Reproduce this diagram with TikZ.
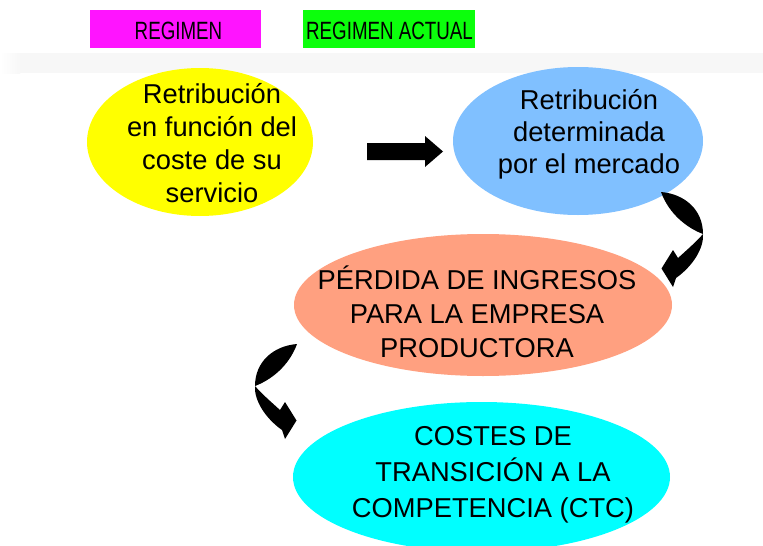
\documentclass[tikz,border=0pt]{standalone}
\usepackage{fontspec}
\setmainfont{Liberation Sans}
\usepackage{graphicx}
\usetikzlibrary{shapes.geometric}
\definecolor{cmag}{RGB}{255,20,255}
\definecolor{cgreen}{RGB}{12,255,12}
\definecolor{cyel}{RGB}{255,255,0}
\definecolor{cblue}{RGB}{128,192,255}
\definecolor{csalmon}{RGB}{255,160,128}
\definecolor{ccyan}{RGB}{0,255,255}
\begin{document}
\begin{tikzpicture}[x=1pt,y=-1pt,
  hdr/.style={rectangle, minimum width=171pt, minimum height=38pt, inner sep=0pt},
  hdrtext/.style={inner sep=0pt, font=\fontsize{25}{30}\selectfont},
  blob/.style={ellipse, inner sep=0pt, draw=none},
  lbl/.style={align=center, inner sep=0pt, font=\fontsize{27.3}{#1}\selectfont},
  curvarrow/.pic={
    \fill[black] (-42,-42) .. controls (-18,-40) and (0,-24) .. (0,0)
         .. controls (-16,-6) and (-34,-20) .. (-42,-42) -- cycle;
    \fill[black] (0,0) .. controls (1,14) and (-10,32) .. (-27,44)
         -- (-30,53) -- (-41.5,34.5) -- (-30,16) -- (-25,24)
         .. controls (-15,15) and (-6,7) .. (0,0) -- cycle;
  }]
\useasboundingbox (0,0) rectangle (763,546);
\fill[white] (0,0) rectangle (763,546);
% faint shadow band
\fill[gray!6] (20,53) rectangle (763,73);
\shade[left color=white, right color=gray!6] (0,53) rectangle (20,73);
% headers
\node[hdr, fill=cmag] (mag) at (175.5,29) {};
\node[hdrtext] (magT) at (178.5,31) {\scalebox{0.75}[1]{REGIMEN}};
\node[hdr, fill=cgreen, minimum width=172pt] (grn) at (389,29) {};
\node[hdrtext] (grnT) at (389.5,31) {\scalebox{0.75}[1]{REGIMEN ACTUAL}};
% ellipses
\node[blob, fill=cyel, minimum width=226pt, minimum height=148pt] (yel) at (200,142) {};
\node[blob, fill=cblue, minimum width=250pt, minimum height=148pt] (blu) at (578,141) {};
\node[blob, fill=csalmon, minimum width=378pt, minimum height=142pt] (sal) at (483,305) {};
\node[blob, fill=ccyan, minimum width=377pt, minimum height=150pt] (cya) at (481.5,477) {};
% texts
\node[lbl=33] (yelT) at (212,145.9) {\strut Retribución\\\strut en función del\\\strut coste de su\\\strut servicio};
\node[lbl=32] (bluT) at (589,135.1) {\strut Retribución\\\strut determinada\\\strut por el mercado};
\node[lbl=34] (salT) at (477,317) {\strut PÉRDIDA DE INGRESOS\\\strut PARA LA EMPRESA\\\strut PRODUCTORA};
\node[lbl=36] (cyaT) at (493,473.8) {\strut COSTES DE\\\strut TRANSICIÓN A LA\\\strut COMPETENCIA (CTC)};
% straight block arrow
\coordinate (sa) at (367,151.5);
\coordinate (sb) at (443,151.5);
\fill[black] (sa) ++(0,-8.5) -- (425,143) -- (425,136) -- (sb) -- (425,167) -- (425,160) -- (367,160) -- cycle;
% curved block arrows
\coordinate (ra) at (703,234);
\coordinate (la) at (255,386);
\pic at (ra) {curvarrow};
\pic[xscale=-1] at (la) {curvarrow};
\end{tikzpicture}
\end{document}
